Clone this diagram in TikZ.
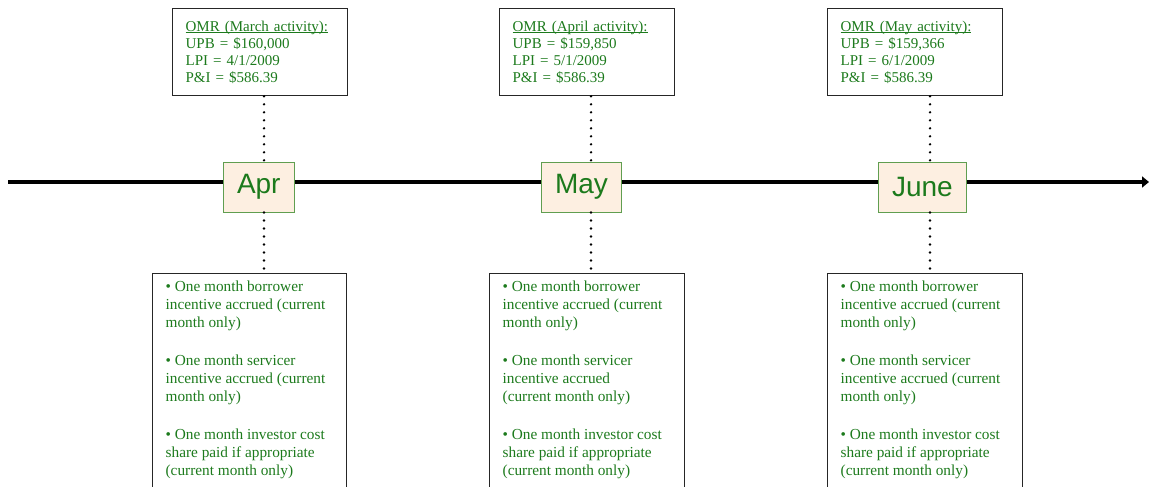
\documentclass[tikz,border=0pt]{standalone}
\usepackage{fontspec}
\setmainfont{Liberation Serif}
\newfontfamily\monthfont{Liberation Sans}
\usetikzlibrary{arrows.meta}
\definecolor{ink}{RGB}{28,122,28}
\definecolor{peach}{RGB}{253,239,225}
\definecolor{monedge}{RGB}{96,158,80}
\newcommand{\omrhead}[1]{\underline{\smash{#1}}\vphantom{(}}
\begin{document}
\begin{tikzpicture}[x=1pt,y=-1pt,
  omrbox/.style={draw=black!85,line width=1.3pt,anchor=north west,text=ink,align=left,
    text width=149pt,minimum height=87pt,inner xsep=13pt,
    font=\fontsize{15}{17}\selectfont},
  monbox/.style={draw=monedge,line width=1pt,fill=peach,text=ink,anchor=north west,
    minimum height=50pt,inner xsep=13.5pt,font=\monthfont\fontsize{28}{30}\selectfont},
  incbox/.style={draw=black!85,line width=1.3pt,anchor=north west,text=ink,
    inner xsep=13pt,inner ysep=7pt,font=\fontsize{15.3}{18}\selectfont},
  dotline/.style={line width=2.6pt,dash pattern=on 0pt off 8pt,line cap=round}]
\useasboundingbox (0,0) rectangle (1149,487);
% time axis
\coordinate (axStart) at (8,182);
\coordinate (axEnd) at (1149,182);
\draw[line width=3.5pt,-{Triangle[length=7pt,width=11pt]}] (axStart) -- (axEnd);
% month markers
\node[monbox] (monApr) at (223,161.5) {Apr};
\node[monbox] (monMay) at (541,161.5) {May};
\node[monbox] (monJun) at (878,161.5) {June};
% OMR boxes
\node[omrbox] (omrApr) at (172,8) {\omrhead{OMR (March activity):}\\UPB = \$160,000\\LPI = 4/1/2009\\P\&I = \$586.39};
\node[omrbox] (omrMay) at (499,8) {\omrhead{OMR (April activity):}\\UPB = \$159,850\\LPI = 5/1/2009\\P\&I = \$586.39};
\node[omrbox] (omrJun) at (827,8) {\omrhead{OMR (May activity):}\\UPB = \$159,366\\LPI = 6/1/2009\\P\&I = \$586.39};
% incentive boxes
\node[incbox] (incApr) at (152,273) {\parbox[t][230pt][t]{168pt}{%
  \textbullet{} One month borrower\\incentive accrued (current\\month only)\\[20pt]
  \textbullet{} One month servicer\\incentive accrued (current\\month only)\\[20pt]
  \textbullet{} One month investor cost\\share paid if appropriate\\(current month only)}};
\node[incbox] (incMay) at (489,273) {\parbox[t][230pt][t]{169pt}{%
  \textbullet{} One month borrower\\incentive accrued (current\\month only)\\[20pt]
  \textbullet{} One month servicer\\incentive accrued\\(current month only)\\[20pt]
  \textbullet{} One month investor cost\\share paid if appropriate\\(current month only)}};
\node[incbox] (incJun) at (827,273) {\parbox[t][230pt][t]{169pt}{%
  \textbullet{} One month borrower\\incentive accrued (current\\month only)\\[20pt]
  \textbullet{} One month servicer\\incentive accrued (current\\month only)\\[20pt]
  \textbullet{} One month investor cost\\share paid if appropriate\\(current month only)}};
% dotted links
\coordinate (dotApr) at (264,0);
\coordinate (dotMay) at (591,0);
\coordinate (dotJun) at (930,0);
\draw[dotline] (omrApr.south -| dotApr) -- (monApr.north -| dotApr);
\draw[dotline] (monApr.south -| dotApr) -- (incApr.north -| dotApr);
\draw[dotline] (omrMay.south -| dotMay) -- (monMay.north -| dotMay);
\draw[dotline] (monMay.south -| dotMay) -- (incMay.north -| dotMay);
\draw[dotline] (omrJun.south -| dotJun) -- (monJun.north -| dotJun);
\draw[dotline] (monJun.south -| dotJun) -- (incJun.north -| dotJun);
\end{tikzpicture}
\end{document}
